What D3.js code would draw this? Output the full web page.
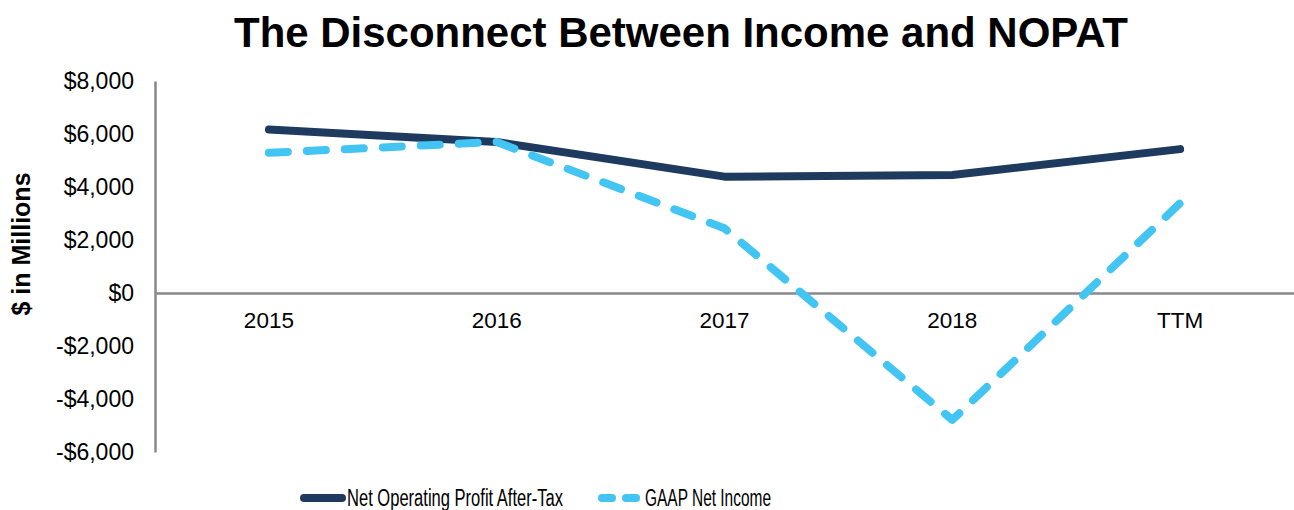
<!DOCTYPE html>
<html>
<head>
<meta charset="utf-8">
<script src="https://cdn.jsdelivr.net/npm/d3@7"></script>
<style>
  body { margin: 0; background: #fff; }
  svg { display: block; font-family: "Liberation Sans", Arial, sans-serif; }
</style>
</head>
<body>
<div class="chart"></div>
<script>
const width = 1294,
    height = 510,
    margin = { top: 81, bottom: 58, left: 155, right: 0 };

const categories = ["2015", "2016", "2017", "2018", "TTM"];
const nopat = [6170, 5700, 4390, 4450, 5430];
const gaapNetIncome = [5290, 5700, 2440, -4790, 3390];
const yTicks = [-6000, -4000, -2000, 0, 2000, 4000, 6000, 8000];

const series = [
    { name: "Net Operating Profit After-Tax", values: nopat, color: "#1f3a5f", dash: null },
    { name: "GAAP Net Income", values: gaapNetIncome, color: "#42c5f3", dash: "19,19" }
];

const svg = d3.select(".chart")
    .append("svg")
    .attr("width", width)
    .attr("height", height);

const xScale = d3.scaleBand()
    .domain(categories)
    .range([margin.left, width - margin.right]);

const yScale = d3.scaleLinear()
    .domain([-6000, 8000])
    .range([452, margin.top]);

// title
svg.append("text")
    .attr("x", 681)
    .attr("y", 47)
    .attr("text-anchor", "middle")
    .attr("font-weight", "bold")
    .attr("font-size", 43)
    .attr("textLength", 894)
    .attr("lengthAdjust", "spacingAndGlyphs")
    .text("The Disconnect Between Income and NOPAT");

// y axis
const fmt = d => (d < 0 ? "-$" : "$") + d3.format(",")(Math.abs(d));
const yAxis = d3.axisLeft(yScale).tickValues(yTicks).tickFormat(fmt).tickSize(0).tickPadding(21);
const yAxisGroup = svg.append("g")
    .attr("transform", `translate(${margin.left}, 0)`)
    .call(yAxis);
yAxisGroup.select(".domain").attr("stroke", "#898989").attr("stroke-width", 2.5);
yAxisGroup.selectAll("text").attr("font-size", 23).attr("fill", "#000")
    .attr("font-family", "Liberation Sans, Arial, sans-serif");

// x axis at zero
const xAxis = d3.axisBottom(xScale).tickSize(0);
const xAxisGroup = svg.append("g")
    .attr("transform", `translate(0, ${yScale(0)})`)
    .call(xAxis);
xAxisGroup.select(".domain").attr("stroke", "#898989").attr("stroke-width", 2.5);
xAxisGroup.selectAll("text").attr("font-size", 22.5).attr("fill", "#000")
    .attr("y", 35).attr("dy", 0)
    .attr("font-family", "Liberation Sans, Arial, sans-serif");

// y label
svg.append("text")
    .attr("transform", `translate(30, ${244}) rotate(-90)`)
    .attr("text-anchor", "middle")
    .attr("font-weight", "bold")
    .attr("font-size", 25)
    .text("$ in Millions");

// lines
const line = d3.line()
    .x((d, i) => xScale(categories[i]) + xScale.bandwidth() / 2)
    .y(d => yScale(d));

svg.selectAll(".line")
    .data(series)
    .join("path")
    .attr("class", "line")
    .attr("d", d => line(d.values))
    .attr("fill", "none")
    .attr("stroke", d => d.color)
    .attr("stroke-width", 8)
    .attr("stroke-linecap", "round")
    .attr("stroke-linejoin", "round")
    .attr("stroke-dasharray", d => d.dash);

// legend
const legendPos = [
    { x: 304, textLength: 216 },
    { x: 602, textLength: 126 }
];
const legend = svg.selectAll(".legend")
    .data(series)
    .join("g")
    .attr("class", "legend")
    .attr("transform", (d, i) => `translate(${legendPos[i].x}, 498)`);

legend.append("line")
    .attr("x1", 0)
    .attr("x2", 38)
    .attr("stroke", d => d.color)
    .attr("stroke-width", 8)
    .attr("stroke-linecap", "round")
    .attr("stroke-dasharray", d => d.dash ? "10,14" : null);

legend.append("text")
    .attr("x", 43)
    .attr("y", 8)
    .attr("font-size", 23)
    .attr("textLength", (d, i) => legendPos[i].textLength)
    .attr("lengthAdjust", "spacingAndGlyphs")
    .text(d => d.name);
</script>
</body>
</html>
